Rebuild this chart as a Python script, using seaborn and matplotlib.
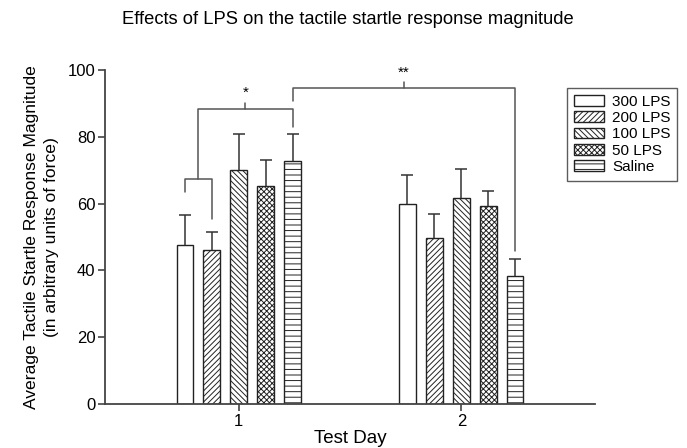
import matplotlib
matplotlib.use("Agg")
import matplotlib.pyplot as plt
from matplotlib.patches import Patch
import seaborn as sns
import pandas as pd
import numpy as np

days = ["1", "2"]
groups = ["300 LPS", "200 LPS", "100 LPS", "50 LPS", "Saline"]
day1_means = [47.7, 46.0, 70.2, 65.2, 72.7]
day1_errs = [8.8, 5.5, 10.5, 7.8, 8.0]
day2_means = [60.0, 49.7, 61.7, 59.2, 38.4]
day2_errs = [8.5, 7.3, 8.7, 4.5, 5.1]
hatches = ["", "//////", "\\\\\\\\\\\\", "xxxxxx", "---"]

sns.set_theme(style="ticks")
plt.rcParams["font.family"] = ["Liberation Sans", "DejaVu Sans"]
plt.rcParams["hatch.linewidth"] = 0.7
for k in ["text.color", "axes.labelcolor", "xtick.labelcolor", "ytick.labelcolor"]:
    plt.rcParams[k] = "black"

df = pd.DataFrame({
    "day": [d for d in days for _ in groups],
    "group": groups * 2,
    "value": day1_means + day2_means,
    "err": day1_errs + day2_errs,
})

fig = plt.figure(figsize=(6.87, 4.48), dpi=100)
ax = fig.add_axes([105 / 687, 1 - 404 / 448, 490 / 687, 334 / 448])

sns.barplot(data=df, x="day", y="value", hue="group", hue_order=groups,
            order=days, palette=["white"] * 5, edgecolor="#222222",
            linewidth=1.0, width=0.605, gap=0.39, errorbar=None,
            legend=False, ax=ax)

centers = {}
for gi, cont in enumerate(ax.containers):
    for di, bar in enumerate(cont):
        bar.set_hatch(hatches[gi])
        bar.set_facecolor("white")
        cx = bar.get_x() + bar.get_width() / 2
        centers[(di, gi)] = cx
        val = df[(df.day == days[di]) & (df.group == groups[gi])]
        v = float(val.value.iloc[0]); e = float(val.err.iloc[0])
        ax.vlines(cx, v, v + e, color="#333333", lw=1.1, zorder=3)
        ax.hlines(v + e, cx - 0.027, cx + 0.027, color="#333333", lw=1.1, zorder=3)

ax.set_xlim(-0.6, 1.6)
ax.set_ylim(0, 100)
ax.set_yticks([0, 20, 40, 60, 80, 100])
ax.set_xlabel("Test Day", fontsize=13.5, labelpad=1)
ax.set_ylabel("Average Tactile Startle Response Magnitude\n(in arbitrary units of force)",
              fontsize=12.6, linespacing=1.4, labelpad=6)
ax.tick_params(axis="both", labelsize=12, color="#444444", width=1.2, length=5, pad=2)
for s in ["top", "right"]:
    ax.spines[s].set_visible(False)
for s in ["left", "bottom"]:
    ax.spines[s].set_color("#444444")
    ax.spines[s].set_linewidth(1.3)

# significance brackets
lc = "#555555"; lw = 1.1
x1, x2, x5 = centers[(0, 0)], centers[(0, 1)], centers[(0, 4)]
xm12 = (x1 + x2) / 2
ax.plot([x1, x1, x2, x2], [63.5, 67.5, 67.5, 55.5], color=lc, lw=lw)
ax.plot([xm12, xm12, x5, x5], [67.5, 88.3, 88.3, 82.8], color=lc, lw=lw, clip_on=False)
xs = (xm12 + x5) / 2
ax.plot([xs, xs], [88.3, 90.0], color=lc, lw=lw)
ax.text(xs, 91.0, "*", ha="center", va="bottom", fontsize=11)
x25 = centers[(1, 4)]
ax.plot([x5, x5, x25, x25], [90.8, 94.6, 94.6, 45.7], color=lc, lw=lw, clip_on=False)
xss = (x5 + x25) / 2
ax.plot([xss, xss], [94.6, 96.5], color=lc, lw=lw, clip_on=False)
ax.text(xss, 97.0, "**", ha="center", va="bottom", fontsize=11)

handles = [Patch(facecolor="white", edgecolor="#222222", hatch=h, lw=1.0) for h in hatches]
fig.legend(handles, groups, loc="upper left", bbox_to_anchor=(567 / 687, 1 - 88 / 448),
           frameon=True, fancybox=False, edgecolor="#333333", fontsize=11,
           handlelength=2.0, handleheight=0.7, handletextpad=0.5,
           labelspacing=0.15, borderpad=0.45, borderaxespad=0)

fig.text(348 / 687, 1 - 20 / 448, "Effects of LPS on the tactile startle response magnitude",
         ha="center", va="center", fontsize=13.2)

fig.savefig("out.png", dpi=100)
